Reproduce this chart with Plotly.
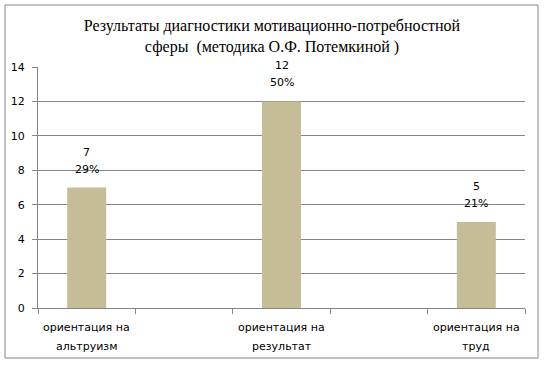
import plotly.graph_objects as go

categories = ["ориентация на<br>альтруизм", " ", "ориентация на<br>результат", "  ", "ориентация на<br>труд"]
values = [7, None, 12, None, 5]
percents = ["29%", "", "50%", "", "21%"]
title_text = "Результаты диагностики мотивационно-потребностной<br>сферы  (методика О.Ф. Потемкиной )"

W, H = 544, 365
L, R, T, B = 38, 19, 67, 57
pw, ph = W - L - R, H - T - B

fig = go.Figure(go.Bar(
    x=categories, y=values,
    marker=dict(color="#C4BD97", line=dict(width=0)),
    width=0.4, hoverinfo="skip",
))

lab_font = dict(family="DejaVu Sans", size=11, color="#000")
for c, v, p in zip(categories, values, percents):
    if v is None:
        continue
    fig.add_annotation(x=c, y=v, text=str(v), showarrow=False, yanchor="bottom",
                       yshift=27, font=lab_font)
    fig.add_annotation(x=c, y=v, text=p, showarrow=False, yanchor="bottom",
                       yshift=10, font=lab_font)

# category labels, two lines each, with the wider line spacing of the reference
for c in categories:
    parts = c.split("<br>")
    if not c.strip():
        continue
    for i, line in enumerate(parts):
        fig.add_annotation(x=c, y=0, yref="y", text=line, showarrow=False, yanchor="middle",
                           yshift=-19 - 19 * i, font=lab_font)

fig.update_layout(
    width=W, height=H,
    margin=dict(l=L, r=R, t=T, b=B, autoexpand=False),
    paper_bgcolor="white", plot_bgcolor="white",
    showlegend=False,
    title=dict(text=title_text, x=0.5, xanchor="center", y=1 - 31 / H, yanchor="top",
               automargin=False,
               font=dict(family="Liberation Serif, Times New Roman, serif", size=16, color="#000")),
)
fig.update_xaxes(
    type="category", tickson="boundaries", ticks="outside", ticklen=5, tickcolor="#868686",
    showline=True, linecolor="#868686", linewidth=1, showgrid=False, automargin=False,
    showticklabels=False,
)
fig.update_yaxes(
    range=[0, 14], dtick=2, ticks="outside", ticklen=5, tickcolor="#868686",
    showline=True, linecolor="#868686", linewidth=1, automargin=False,
    showgrid=True, gridcolor="#868686", gridwidth=1, zeroline=False,
    ticklabelstandoff=5,
    tickfont=dict(family="DejaVu Sans", size=11, color="#000"),
)
fig.add_shape(type="rect", xref="paper", yref="paper",
              x0=(5 - L) / pw, x1=(538 - L) / pw,
              y0=(H - B - 358) / ph, y1=(H - B - 5) / ph,
              line=dict(color="#868686", width=1), layer="below")

fig.write_html("out.html", config={"displayModeBar": False},
               post_script="document.body.style.margin='0';")
